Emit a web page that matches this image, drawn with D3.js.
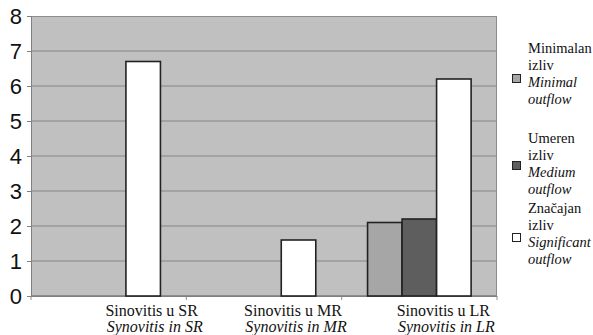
<!DOCTYPE html>
<html>
<head>
<meta charset="utf-8">
<script src="https://cdn.jsdelivr.net/npm/d3@7"></script>
<style>
  html, body { margin: 0; padding: 0; background: #fff; }
  svg { display: block; }
  .serif { font-family: "Liberation Serif", "Times New Roman", Tinos, "DejaVu Serif", serif; }
</style>
</head>
<body>
<svg id="chart" width="593" height="335"></svg>
<script>
// Categories (two-line labels: Serbian / English)
const categories = ["SR", "MR", "LR"];
const labelsSr = ["Sinovitis u SR", "Sinovitis u MR", "Sinovitis u LR"];
const labelsEn = ["Synovitis in SR", "Synovitis in MR", "Synovitis in LR"];

// Series
const seriesKeys = ["minimal", "medium", "significant"];
const minimalValues = [0, 0, 2.1];
const mediumValues = [0, 0, 2.2];
const significantValues = [6.7, 1.6, 6.2];

// Legend text
const legendSr = [["Minimalan", "izliv"], ["Umeren", "izliv"], ["Značajan", "izliv"]];
const legendEn = [["Minimal", "outflow"], ["Medium", "outflow"], ["Significant", "outflow"]];

const yTicks = [0, 1, 2, 3, 4, 5, 6, 7, 8];

const colors = { minimal: "#a6a6a6", medium: "#5e5e5e", significant: "#ffffff" };
const valuesBySeries = { minimal: minimalValues, medium: mediumValues, significant: significantValues };

const svg = d3.select("#chart");
const plot = { left: 31, right: 497, top: 16, bottom: 296 };

const x = d3.scaleBand().domain(categories).range([plot.left, plot.right]).padding(0);
const xSub = d3.scaleBand().domain(seriesKeys).range([0, x.bandwidth()]).paddingInner(0).paddingOuter(0.75);
const y = d3.scaleLinear().domain([0, 8]).range([plot.bottom, plot.top]);

// Plot background
svg.append("rect")
  .attr("x", plot.left).attr("y", plot.top)
  .attr("width", plot.right - plot.left).attr("height", plot.bottom - plot.top)
  .attr("fill", "#c0c0c0");

// Horizontal gridlines
svg.append("g")
  .selectAll("line")
  .data(yTicks.filter(t => t > 0 && t < 8))
  .join("line")
  .attr("x1", plot.left).attr("x2", plot.right)
  .attr("y1", d => y(d)).attr("y2", d => y(d))
  .attr("stroke", "#858585").attr("stroke-width", 1);

// Plot frame
svg.append("rect")
  .attr("x", plot.left + 0.5).attr("y", plot.top + 0.5)
  .attr("width", plot.right - plot.left - 1).attr("height", plot.bottom - plot.top - 1)
  .attr("fill", "none").attr("stroke", "#8c8c8c").attr("stroke-width", 1);

// Y axis
const yAxis = d3.axisLeft(y).tickValues(yTicks).tickSize(4).tickPadding(5).tickFormat(d3.format("d"));
const gy = svg.append("g").attr("transform", `translate(${plot.left},0)`).call(yAxis);
gy.attr("font-family", null).attr("font-size", null);
gy.select(".domain").attr("stroke", "#808080");
gy.selectAll(".tick line").attr("stroke", "#808080");
gy.selectAll(".tick text")
  .style("font-family", "'Liberation Sans', Arial, sans-serif")
  .style("font-size", "22px").attr("fill", "#111");

// X axis (ticks at category boundaries)
const bounds = [plot.left, ...categories.map(c => x(c) + x.bandwidth())];
svg.append("g").selectAll("line")
  .data(bounds)
  .join("line")
  .attr("x1", d => d).attr("x2", d => d)
  .attr("y1", plot.bottom).attr("y2", plot.bottom + 4)
  .attr("stroke", "#909090");
svg.append("line")
  .attr("x1", plot.left).attr("x2", plot.right)
  .attr("y1", plot.bottom + 0.5).attr("y2", plot.bottom + 0.5)
  .attr("stroke", "#808080");

// Bars
const bars = [];
categories.forEach((c, i) => {
  seriesKeys.forEach(k => {
    const v = valuesBySeries[k][i];
    if (v > 0) bars.push({ cat: c, key: k, value: v });
  });
});
svg.append("g").selectAll("rect")
  .data(bars)
  .join("rect")
  .attr("x", d => x(d.cat) + xSub(d.key))
  .attr("y", d => y(d.value))
  .attr("width", xSub.bandwidth())
  .attr("height", d => y(0) - y(d.value))
  .attr("fill", d => colors[d.key])
  .attr("stroke", "#222")
  .attr("stroke-width", 1.6);

// Category labels
const labelShift = [43, 29, 24];
const catLabels = svg.append("g")
  .attr("class", "serif")
  .style("font-size", "16px").attr("fill", "#111").attr("text-anchor", "middle");
categories.forEach((c, i) => {
  const cx = x(c) + x.bandwidth() / 2 + labelShift[i];
  catLabels.append("text").attr("x", cx).attr("y", 316).text(labelsSr[i]);
  catLabels.append("text").attr("x", cx + 3).attr("y", 332).style("font-style", "italic").text(labelsEn[i]);
});

// Legend
const legendTops = [53, 143, 213];
const swatchY = [74, 161, 233];
const lineH = 17;
const legend = svg.append("g")
  .attr("class", "serif")
  .style("font-size", "14.5px").attr("fill", "#111");
seriesKeys.forEach((k, i) => {
  legend.append("rect")
    .attr("x", 512.5).attr("y", swatchY[i] + 0.5)
    .attr("width", 8).attr("height", 8)
    .attr("fill", colors[k]).attr("stroke", "#222").attr("stroke-width", 1);
  const lines = [
    { t: legendSr[i][0], it: false },
    { t: legendSr[i][1], it: false },
    { t: legendEn[i][0], it: true },
    { t: legendEn[i][1], it: true }
  ];
  lines.forEach((ln, j) => {
    legend.append("text")
      .attr("x", 528)
      .attr("y", legendTops[i] + j * lineH)
      .style("font-style", ln.it ? "italic" : "normal")
      .text(ln.t);
  });
});
</script>
</body>
</html>
